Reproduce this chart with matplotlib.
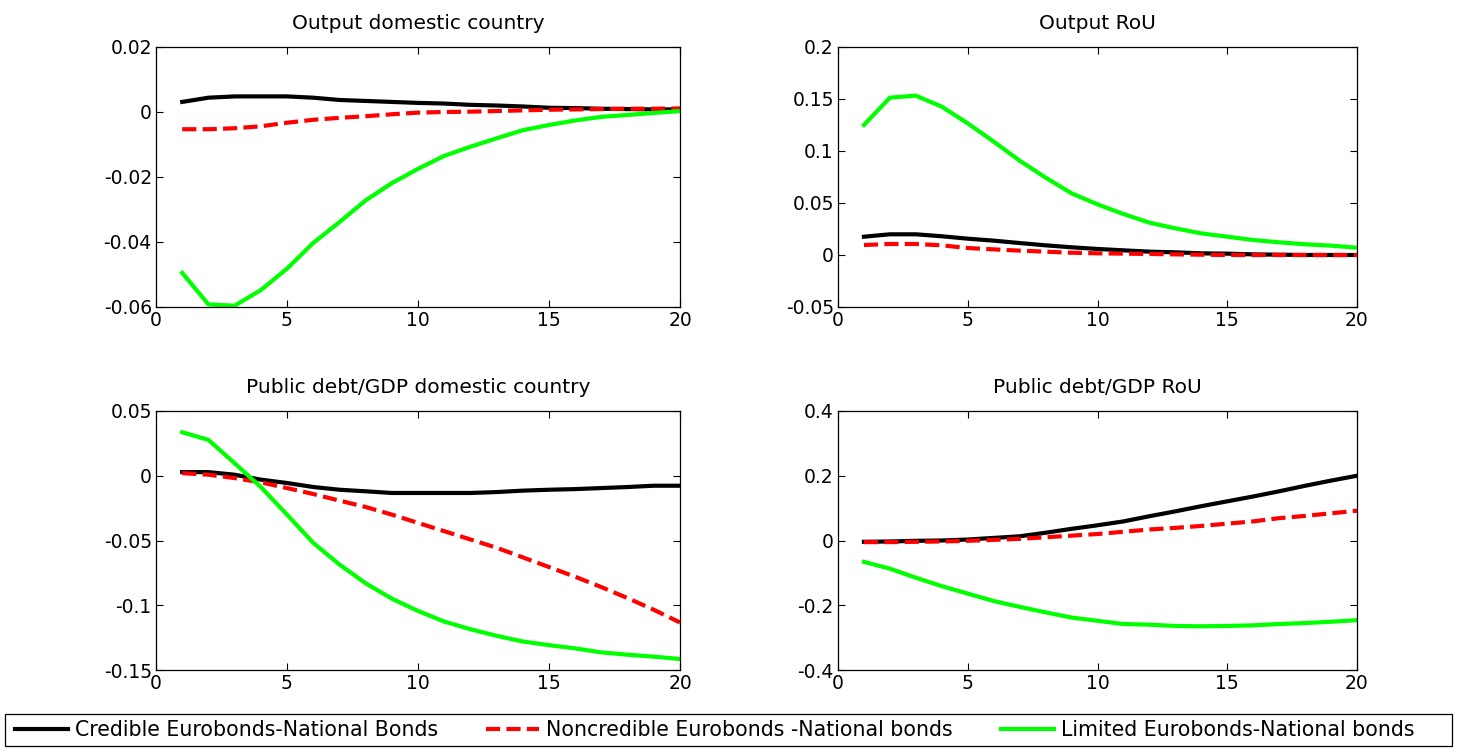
import matplotlib
matplotlib.use("Agg")
import matplotlib.pyplot as plt
from matplotlib.patches import Rectangle

plt.rcParams['font.family'] = ['DejaVu Sans']

periods = list(range(1, 21))

titles = ["Output domestic country", "Output RoU",
          "Public debt/GDP domestic country", "Public debt/GDP RoU"]

series_names = ["Credible Eurobonds-National Bonds",
                "Noncredible Eurobonds -National bonds",
                "Limited Eurobonds-National bonds"]

# Output domestic country
out_dom_credible = [0.0031, 0.0044, 0.0048, 0.0048, 0.0048, 0.0044, 0.0037, 0.0034, 0.0031, 0.0028,
                    0.0026, 0.0022, 0.0020, 0.0017, 0.0013, 0.0012, 0.0010, 0.0009, 0.0008, 0.0008]
out_dom_noncred = [-0.0053, -0.0053, -0.0050, -0.0044, -0.0033, -0.0024, -0.0018, -0.0013, -0.0007, -0.0002,
                   0.0000, 0.0001, 0.0003, 0.0005, 0.0007, 0.0008, 0.0009, 0.0010, 0.0010, 0.0011]
out_dom_limited = [-0.0495, -0.0592, -0.0596, -0.0548, -0.0482, -0.0403, -0.0339, -0.0272, -0.0219, -0.0175,
                   -0.0135, -0.0107, -0.0081, -0.0056, -0.0040, -0.0026, -0.0015, -0.0009, -0.0003, 0.0003]

# Output RoU
out_rou_credible = [0.0176, 0.0199, 0.0199, 0.0180, 0.0157, 0.0138, 0.0115, 0.0093, 0.0074, 0.0058,
                    0.0045, 0.0032, 0.0026, 0.0016, 0.0013, 0.0006, 0.0003, 0.0000, 0.0000, 0.0000]
out_rou_noncred = [0.0096, 0.0106, 0.0106, 0.0093, 0.0067, 0.0054, 0.0042, 0.0032, 0.0022, 0.0016,
                   0.0013, 0.0010, 0.0006, 0.0003, 0.0000, 0.0000, 0.0000, 0.0000, 0.0000, 0.0000]
out_rou_limited = [0.125, 0.1513, 0.1532, 0.1426, 0.1266, 0.1090, 0.0907, 0.0744, 0.0593, 0.0487,
                   0.0394, 0.0311, 0.0256, 0.0208, 0.0176, 0.0144, 0.0122, 0.0103, 0.0090, 0.0070]

# Public debt/GDP domestic country
debt_dom_credible = [0.0028, 0.0028, 0.0008, -0.0030, -0.0056, -0.0087, -0.0108, -0.0120, -0.0133, -0.0133,
                     -0.0133, -0.0133, -0.0126, -0.0115, -0.0108, -0.0103, -0.0095, -0.0087, -0.0077, -0.0077]
debt_dom_noncred = [0.0020, 0.0008, -0.0018, -0.0051, -0.0095, -0.0141, -0.0192, -0.0241, -0.0300, -0.0364,
                    -0.0428, -0.0492, -0.0556, -0.0630, -0.0705, -0.0780, -0.0860, -0.0945, -0.1035, -0.1133]
debt_dom_limited = [0.0336, 0.0277, 0.0097, -0.0087, -0.0300, -0.0518, -0.0685, -0.0830, -0.0949, -0.1044,
                    -0.1126, -0.1185, -0.1236, -0.1280, -0.1308, -0.1333, -0.1364, -0.1382, -0.1397, -0.1415]

# Public debt/GDP RoU
debt_rou_credible = [-0.004, -0.003, -0.001, 0.000, 0.003, 0.008, 0.013, 0.024, 0.036, 0.047,
                     0.059, 0.075, 0.090, 0.106, 0.121, 0.136, 0.152, 0.169, 0.185, 0.200]
debt_rou_noncred = [-0.005, -0.005, -0.004, -0.003, -0.001, 0.002, 0.005, 0.010, 0.015, 0.020,
                    0.027, 0.034, 0.039, 0.045, 0.052, 0.059, 0.069, 0.076, 0.084, 0.092]
debt_rou_limited = [-0.066, -0.087, -0.115, -0.141, -0.164, -0.187, -0.205, -0.222, -0.238, -0.248,
                    -0.258, -0.260, -0.264, -0.265, -0.264, -0.262, -0.258, -0.255, -0.251, -0.246]

panels = [
    (out_dom_credible, out_dom_noncred, out_dom_limited),
    (out_rou_credible, out_rou_noncred, out_rou_limited),
    (debt_dom_credible, debt_dom_noncred, debt_dom_limited),
    (debt_rou_credible, debt_rou_noncred, debt_rou_limited),
]

yticks = [
    [-0.06, -0.04, -0.02, 0, 0.02],
    [-0.05, 0, 0.05, 0.1, 0.15, 0.2],
    [-0.15, -0.1, -0.05, 0, 0.05],
    [-0.4, -0.2, 0, 0.2, 0.4],
]
yticklabels = [
    ["-0.06", "-0.04", "-0.02", "0", "0.02"],
    ["-0.05", "0", "0.05", "0.1", "0.15", "0.2"],
    ["-0.15", "-0.1", "-0.05", "0", "0.05"],
    ["-0.4", "-0.2", "0", "0.2", "0.4"],
]
xticks = [0, 5, 10, 15, 20]

fig = plt.figure(figsize=(14.64, 7.48), dpi=100)

W, H = 1464, 748
boxes = [
    (156, 47, 680, 307),
    (838, 47, 1357, 307),
    (156, 411, 680, 670),
    (838, 411, 1357, 670),
]

styles = [
    dict(color="black", linestyle="-"),
    dict(color="#ff0000", linestyle=(0, (3.4, 1.5))),
    dict(color="#00ff00", linestyle="-"),
]

handles = []
for i, (l, t, r, b) in enumerate(boxes):
    ax = fig.add_axes([l / W, 1 - b / H, (r - l) / W, (b - t) / H])
    hs = []
    for data, st in zip(panels[i], styles):
        h, = ax.plot(periods, data, linewidth=3.0, **st)
        hs.append(h)
    if i == 0:
        handles = hs
    ax.set_xlim(0, 20)
    ax.set_ylim(yticks[i][0], yticks[i][-1])
    ax.set_xticks(xticks)
    ax.set_xticklabels([str(v) for v in xticks])
    ax.set_yticks(yticks[i])
    ax.set_yticklabels(yticklabels[i])
    ax.tick_params(direction="in", top=True, right=True, length=5, width=0.8,
                   labelsize=13.5, pad=3)
    for s in ax.spines.values():
        s.set_linewidth(0.9)
    ax.set_title(titles[i], fontsize=14.5, pad=13)

# legend box across the bottom
fig.add_artist(Rectangle((5 / W, 1 - 746 / H), (1452 - 5) / W, (746 - 714) / H,
                         transform=fig.transFigure, fill=False,
                         edgecolor="black", linewidth=0.9))

fs = 14.8
px_per_em = fs * 100 / 72
leg = fig.legend(handles, series_names, loc="center left",
                 bbox_to_anchor=(15 / W, 1 - 730 / H),
                 ncol=3, frameon=False, fontsize=fs,
                 handlelength=53 / px_per_em, handletextpad=7 / px_per_em,
                 columnspacing=48 / px_per_em,
                 borderaxespad=0, borderpad=0)

fig.savefig("out.png", dpi=100)
